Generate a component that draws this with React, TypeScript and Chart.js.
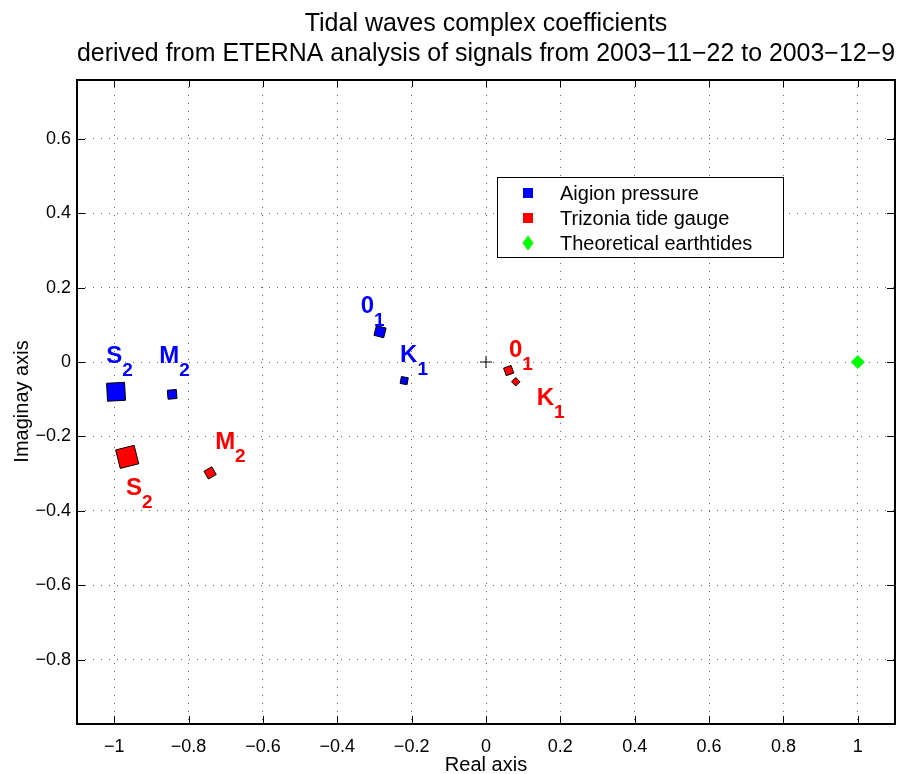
import React, { useEffect, useRef } from 'react';
import { Chart, registerables } from 'chart.js';

Chart.register(...registerables);

// ---- data ----
const waves = ['S2', 'M2', 'O1', 'K1'];
const labelMain = ['S', 'M', '0', 'K'];
const labelSub = ['2', '2', '1', '1'];

const aigionRe = [-0.995, -0.844, -0.285, -0.22];
const aigionIm = [-0.08, -0.087, 0.0815, -0.05];
const trizoniaRe = [-0.965, -0.742, 0.061, 0.08];
const trizoniaIm = [-0.255, -0.298, -0.023, -0.053];
const theoreticalRe = [1];
const theoreticalIm = [0];
const originRe = [0];
const originIm = [0];

// label anchors (data coordinates of the text start / baseline)
const aigionLabelRe = [-1.0215, -0.879, -0.337, -0.231];
const aigionLabelIm = [-0.003, -0.003, 0.131, 0.001];
const trizoniaLabelRe = [-0.9685, -0.7285, 0.0618, 0.1363];
const trizoniaLabelIm = [-0.3575, -0.235, 0.014, -0.1156];

const xTicks = [-1, -0.8, -0.6, -0.4, -0.2, 0, 0.2, 0.4, 0.6, 0.8, 1];
const yTicks = [-0.8, -0.6, -0.4, -0.2, 0, 0.2, 0.4, 0.6];
const xMin = -1.1;
const xMax = 1.1;
const yMin = -0.9731;
const yMax = 0.7608;

const seriesNames = ['Aigion pressure', 'Trizonia tide gauge', 'Theoretical earthtides'];

// ---- styles ----
const FONT = '"Liberation Sans", Arial, Helvetica, sans-serif';
const BLUE = '#0000ff';
const RED = '#ff0000';
const GREEN = '#00ff00';
const aigionSide = [18, 9, 10, 7];
const aigionRot = [-3, -5, 14, 10];
const trizoniaSide = [19, 9, 8, 6];
const trizoniaRot = [-14, -30, -20, 45];

const fmt = (v: number) => {
  const r = Math.round(v * 10) / 10;
  if (r === 0) return '0';
  return (r < 0 ? '\u2212' : '') + String(Math.abs(r));
};

const overlay = {
  id: 'overlay',
  afterDraw(chart: any) {
    const { ctx, chartArea: a } = chart;
    const x = chart.scales.x;
    const y = chart.scales.y;
    ctx.save();
    // inward ticks on all four sides
    ctx.strokeStyle = '#000';
    ctx.lineWidth = 1;
    ctx.setLineDash([]);
    ctx.beginPath();
    const tl = 8;
    for (const v of xTicks) {
      const px = Math.round(x.getPixelForValue(v)) + 0.5;
      ctx.moveTo(px, a.bottom);
      ctx.lineTo(px, a.bottom - tl);
      ctx.moveTo(px, a.top);
      ctx.lineTo(px, a.top + tl);
    }
    for (const v of yTicks) {
      const py = Math.round(y.getPixelForValue(v)) + 0.5;
      ctx.moveTo(a.left, py);
      ctx.lineTo(a.left + tl, py);
      ctx.moveTo(a.right, py);
      ctx.lineTo(a.right - tl, py);
    }
    ctx.stroke();
    // frame
    ctx.lineWidth = 2;
    ctx.strokeRect(a.left, a.top + 1, a.right - a.left, a.bottom - a.top - 1);

    // wave labels
    const drawLabels = (re: number[], im: number[], color: string) => {
      ctx.fillStyle = color;
      ctx.textBaseline = 'alphabetic';
      ctx.textAlign = 'left';
      for (let i = 0; i < re.length; i++) {
        const px = x.getPixelForValue(re[i]);
        const py = y.getPixelForValue(im[i]);
        ctx.font = `bold 24px ${FONT}`;
        ctx.fillText(labelMain[i], px, py);
        const w = ctx.measureText(labelMain[i]).width;
        ctx.font = `bold 19px ${FONT}`;
        ctx.fillText(labelSub[i], px + w, py + 13);
      }
    };
    drawLabels(aigionLabelRe, aigionLabelIm, BLUE);
    drawLabels(trizoniaLabelRe, trizoniaLabelIm, RED);

    // legend box
    const lx = a.right - 398;
    const ly = a.top + 98;
    const lw = 286;
    const lh = 80;
    ctx.fillStyle = '#fff';
    ctx.fillRect(lx, ly, lw, lh);
    ctx.lineWidth = 1;
    ctx.strokeStyle = '#000';
    ctx.strokeRect(lx + 0.5, ly + 0.5, lw, lh);
    const colors = [BLUE, RED, GREEN];
    ctx.font = `20px ${FONT}`;
    ctx.textBaseline = 'middle';
    for (let i = 0; i < seriesNames.length; i++) {
      const cy = ly + 16 + i * 25;
      const mx = lx + 31;
      ctx.fillStyle = colors[i];
      if (i < 2) {
        ctx.fillRect(mx - 5, cy - 5, 10, 10);
      } else {
        ctx.beginPath();
        ctx.moveTo(mx, cy - 7.5);
        ctx.lineTo(mx + 5.5, cy);
        ctx.lineTo(mx, cy + 7.5);
        ctx.lineTo(mx - 5.5, cy);
        ctx.closePath();
        ctx.fill();
      }
      ctx.fillStyle = '#000';
      ctx.fillText(seriesNames[i], lx + 63, cy + 1);
    }
    ctx.restore();
  },
};

export default function App() {
  const ref = useRef<HTMLCanvasElement | null>(null);
  useEffect(() => {
    document.body.style.margin = '0';
    const canvas = ref.current;
    if (!canvas) return;
    Chart.defaults.font.family = FONT;
    Chart.defaults.color = '#000';
    const toPts = (re: number[], im: number[]) => re.map((v, i) => ({ x: v, y: im[i] }));
    const gridCommon = {
      color: 'rgba(0,0,0,0.6)',
      lineWidth: 1,
      drawTicks: false,
    };
    const borderCommon = { display: false, dash: [1, 7] };
    const chart = new Chart(canvas, {
      type: 'scatter',
      data: {
        datasets: [
          {
            label: seriesNames[0],
            data: toPts(aigionRe, aigionIm),
            backgroundColor: BLUE,
            borderColor: '#000',
            borderWidth: 1,
            pointStyle: 'rect',
            pointRadius: aigionSide.map((s) => s / Math.SQRT2),
            pointRotation: aigionRot,
          },
          {
            label: seriesNames[1],
            data: toPts(trizoniaRe, trizoniaIm),
            backgroundColor: RED,
            borderColor: '#000',
            borderWidth: 1,
            pointStyle: 'rect',
            pointRadius: trizoniaSide.map((s) => s / Math.SQRT2),
            pointRotation: trizoniaRot,
          },
          {
            label: seriesNames[2],
            data: toPts(theoreticalRe, theoreticalIm),
            backgroundColor: GREEN,
            borderColor: GREEN,
            borderWidth: 0,
            pointStyle: 'rectRot',
            pointRadius: 7,
          },
          {
            label: 'origin',
            data: toPts(originRe, originIm),
            backgroundColor: '#000',
            borderColor: '#000',
            borderWidth: 1,
            pointStyle: 'cross',
            pointRadius: 6,
          },
        ],
      } as any,
      options: {
        responsive: false,
        animation: false,
        devicePixelRatio: 1,
        layout: { padding: { left: 0, right: 17, top: 0, bottom: 0 } },
        plugins: {
          legend: { display: false },
          tooltip: { enabled: false },
          title: {
            display: true,
            fullSize: false,
            text: [
              'Tidal waves complex coefficients',
              'derived from ETERNA analysis of signals from 2003\u221211\u221222 to 2003\u221212\u22129',
            ],
            color: '#000',
            font: { family: FONT, size: 25, weight: 'normal', lineHeight: 1.2 },
            padding: { top: 9, bottom: 10 },
          },
        },
        scales: {
          x: {
            type: 'linear',
            min: xMin,
            max: xMax,
            afterBuildTicks: (s: any) => {
              s.ticks = xTicks.map((v) => ({ value: v }));
            },
            afterFit: (s: any) => {
              s.height = 50;
            },
            ticks: {
              autoSkip: false,
              maxRotation: 0,
              padding: 12,
              font: { family: FONT, size: 18 },
              color: '#000',
              callback: (v: any) => fmt(Number(v)),
            },
            grid: gridCommon,
            border: borderCommon,
            title: {
              display: true,
              text: 'Real axis',
              color: '#000',
              font: { family: FONT, size: 20, lineHeight: 1 },
              padding: { top: 0, bottom: -1 },
            },
          },
          y: {
            type: 'linear',
            min: yMin,
            max: yMax,
            afterBuildTicks: (s: any) => {
              s.ticks = yTicks.map((v) => ({ value: v }));
            },
            afterFit: (s: any) => {
              s.width = 77;
            },
            ticks: {
              autoSkip: false,
              padding: 6,
              font: { family: FONT, size: 18 },
              color: '#000',
              callback: (v: any) => fmt(Number(v)),
            },
            grid: gridCommon,
            border: borderCommon,
            title: {
              display: true,
              text: 'Imaginay axis',
              color: '#000',
              font: { family: FONT, size: 20, lineHeight: 1 },
              padding: { top: 12, bottom: 0 },
            },
          },
        },
      } as any,
      plugins: [overlay],
    });
    return () => chart.destroy();
  }, []);
  return (
    <div style={{ width: 912, height: 774 }}>
      <canvas ref={ref} width={912} height={774} style={{ display: 'block' }} />
    </div>
  );
}
